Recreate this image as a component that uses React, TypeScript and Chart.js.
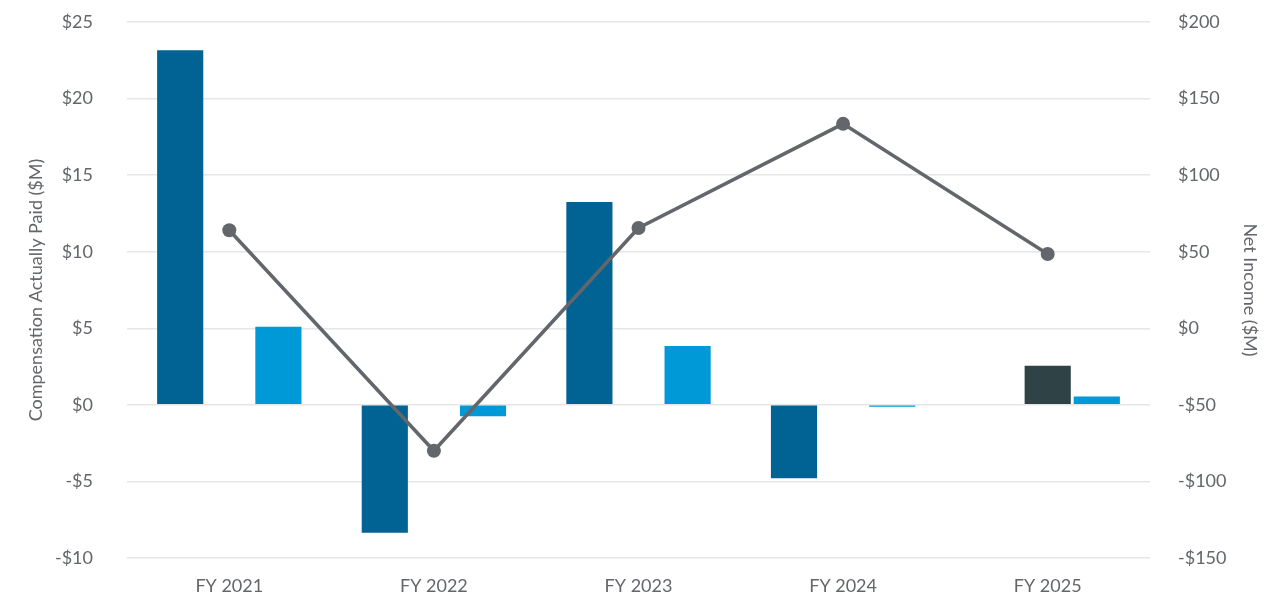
import React, { useEffect, useRef } from "react";
import { Chart, registerables } from "chart.js";

Chart.register(...registerables);

const categories = ["FY 2021", "FY 2022", "FY 2023", "FY 2024", "FY 2025"];
const ceoCap = [23.15, -8.35, 13.25, -4.8, null];
const newCeoCap = [null, null, null, null, 2.55];
const otherNeoCap = [5.1, -0.75, 3.85, -0.12, 0.55];
const netIncome = [64, -80, 65.5, 133.5, 48.5];

const leftTicks = { min: -10, max: 25, step: 5 };
const rightTicks = { min: -150, max: 200, step: 50 };

const FONT = "Lato, 'Open Sans', sans-serif";
const TEXT = "#63666a";

const money = (v: number) => (v < 0 ? `-$${-v}` : `$${v}`);

export default function App() {
  const ref = useRef<HTMLCanvasElement | null>(null);
  useEffect(() => {
    if (!ref.current) return;
    const chart = new Chart(ref.current, {
      type: "bar",
      data: {
        labels: categories,
        datasets: [
          {
            type: "line",
            label: "Net Income",
            data: netIncome,
            yAxisID: "y1",
            borderColor: "#63666a",
            backgroundColor: "#63666a",
            borderWidth: 3.5,
            pointRadius: 7,
            pointHoverRadius: 7,
            pointBackgroundColor: "#63666a",
            pointBorderWidth: 0,
            order: 0,
          } as any,
          {
            label: "CEO",
            data: ceoCap,
            backgroundColor: "#006394",
            yAxisID: "y",
            order: 1,
            categoryPercentage: 0.72,
            barPercentage: 0.94,
          },
          {
            label: "New CEO",
            data: newCeoCap,
            backgroundColor: "#2f4246",
            yAxisID: "y",
            order: 1,
            categoryPercentage: 0.72,
            barPercentage: 0.94,
          },
          {
            label: "Other NEOs",
            data: otherNeoCap,
            backgroundColor: "#0099d8",
            yAxisID: "y",
            order: 1,
            categoryPercentage: 0.72,
            barPercentage: 0.94,
          },
        ],
      },
      options: {
        animation: false,
        responsive: true,
        maintainAspectRatio: false,
        layout: { padding: { top: 0, left: 0, right: 0, bottom: 0 } },
        plugins: { legend: { display: false }, tooltip: { enabled: false } },
        scales: {
          x: {
            grid: { display: false, drawTicks: false },
            border: { display: false },
            ticks: { color: TEXT, font: { family: FONT, size: 18 }, padding: 17 },
            afterFit: (s: any) => {
              s.height = 56;
            },
          },
          y: {
            position: "left",
            min: leftTicks.min,
            max: leftTicks.max,
            ticks: {
              stepSize: leftTicks.step,
              color: TEXT,
              font: { family: FONT, size: 18 },
              padding: 34,
              callback: (v: any) => money(Number(v)),
            },
            grid: { color: "#e6e6e6", lineWidth: 1.5, drawTicks: false },
            border: { display: false },
            title: {
              display: true,
              text: "Compensation Actually Paid ($M)",
              color: TEXT,
              font: { family: FONT, size: 18 },
              padding: { top: 25, bottom: 0 },
            },
            afterFit: (s: any) => {
              s.width = 127;
              s.paddingTop = 22;
              s.paddingBottom = 0;
            },
          },
          y1: {
            position: "right",
            min: rightTicks.min,
            max: rightTicks.max,
            ticks: {
              stepSize: rightTicks.step,
              color: TEXT,
              font: { family: FONT, size: 18 },
              padding: 28,
              callback: (v: any) => money(Number(v)),
            },
            grid: { display: false, drawTicks: false },
            border: { display: false },
            title: {
              display: true,
              text: "Net Income ($M)",
              color: TEXT,
              font: { family: FONT, size: 18 },
              padding: { top: 25, bottom: 0 },
            },
            afterFit: (s: any) => {
              s.width = 136;
              s.paddingTop = 22;
              s.paddingBottom = 0;
            },
          },
        },
      },
    });
    return () => chart.destroy();
  }, []);
  return (
    <div style={{ position: "absolute", left: 0, top: 0, width: 1286, height: 614 }}>
      <canvas ref={ref} />
    </div>
  );
}
